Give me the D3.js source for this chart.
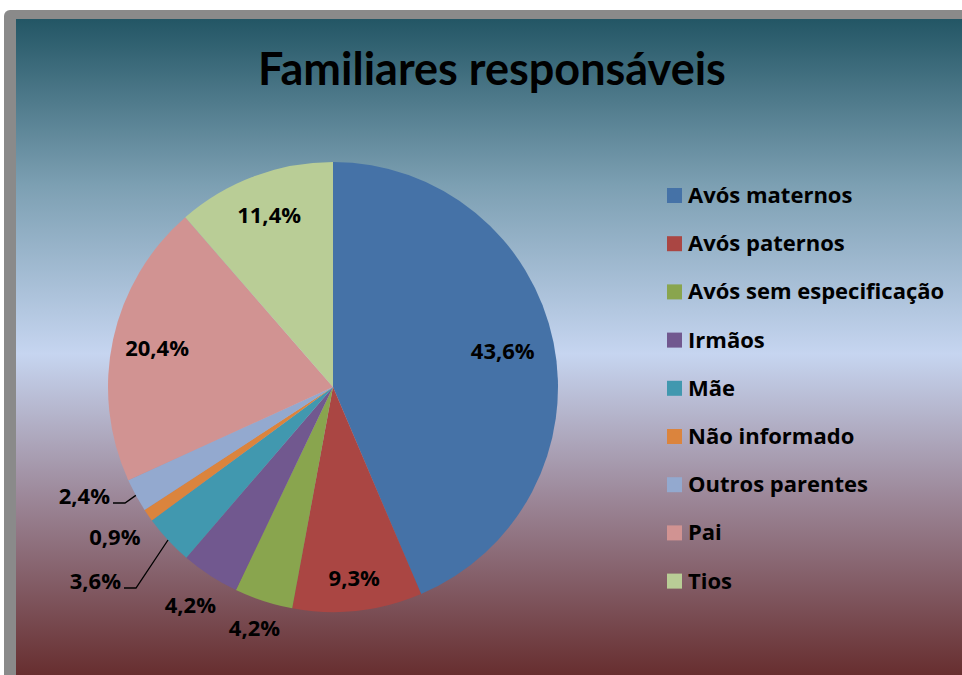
<!DOCTYPE html>
<html lang="pt">
<head>
<meta charset="UTF-8">
<title>Familiares responsáveis</title>
<script src="https://d3js.org/d3.v7.min.js"></script>
<style>
  body { margin: 0; background: #fff; }
  svg { display: block; font-family: "Open Sans", Lato, sans-serif; }
  .title { font-family: Lato, "Open Sans", sans-serif; }
</style>
</head>
<body>
<svg width="962" height="675"></svg>
<script>
const categories = ["Avós maternos", "Avós paternos", "Avós sem especificação", "Irmãos",
                    "Mãe", "Não informado", "Outros parentes", "Pai", "Tios"];
const values = [43.6, 9.3, 4.2, 4.2, 3.6, 0.9, 2.4, 20.4, 11.4];
const labels = ["43,6%", "9,3%", "4,2%", "4,2%", "3,6%", "0,9%", "2,4%", "20,4%", "11,4%"];
const colors = ["#4572A7", "#AA4643", "#89A54E", "#71588F", "#4198AF",
                "#DB843D", "#93A9CF", "#D19392", "#B9CD96"];

// label placement: radius factor, and whether a leader line is drawn
const labelPos = [
  {k: 0.77}, {k: 0.86}, {k: 1.13}, {k: 1.16},
  {k: 1.0, leader: true, elbow: [136, 588]}, {k: 1.18},
  {k: 1.0, leader: true, elbow: [125, 503]}, {k: 0.80}, {k: 0.81}
];

const svg = d3.select("svg");

// frame + gradient background
const grad = svg.append("defs").append("linearGradient")
  .attr("id", "bg").attr("x1", 0).attr("y1", 0).attr("x2", 0).attr("y2", 1);
grad.append("stop").attr("offset", "0%").attr("stop-color", "#235665");
grad.append("stop").attr("offset", "25%").attr("stop-color", "#7da0b3");
grad.append("stop").attr("offset", "50%").attr("stop-color", "#c6d5f0");
grad.append("stop").attr("offset", "72%").attr("stop-color", "#9b8596");
grad.append("stop").attr("offset", "100%").attr("stop-color", "#632727");

svg.append("rect").attr("x", 4).attr("y", 10).attr("width", 970).attr("height", 680)
  .attr("rx", 6).attr("fill", "#8a8a8a");
svg.append("rect").attr("x", 16).attr("y", 19).attr("width", 960).attr("height", 670)
  .attr("fill", "url(#bg)");

svg.append("text").attr("class", "title").attr("x", 492).attr("y", 85).attr("text-anchor", "middle")
  .attr("font-size", 45).attr("font-weight", "bold").attr("fill", "#000")
  .text("Familiares responsáveis");

const cx = 333, cy = 387, r = 225;
const g = svg.append("g").attr("transform", `translate(${cx},${cy})`);

const pie = d3.pie().sort(null).value(d => d);
const arcs = pie(values);
const arc = d3.arc().innerRadius(0).outerRadius(r);

g.selectAll("path.slice").data(arcs).enter().append("path")
  .attr("class", "slice")
  .attr("d", arc)
  .attr("fill", (d, i) => colors[i]);

const mid = d => (d.startAngle + d.endAngle) / 2;

arcs.forEach((d, i) => {
  const p = labelPos[i];
  const a = mid(d);
  if (p.leader) {
    const ex = r * Math.sin(a), ey = -r * Math.cos(a);
    const bx = p.elbow[0] - cx, by = p.elbow[1] - cy;
    g.append("polyline")
      .attr("points", `${ex},${ey} ${bx},${by} ${bx - 12},${by}`)
      .attr("fill", "none").attr("stroke", "#000").attr("stroke-width", 1.3);
    g.append("text").attr("x", bx - 15).attr("y", by + 1)
      .attr("text-anchor", "end").attr("font-size", 22).attr("font-weight", "bold")
      .text(labels[i]);
  } else {
    const lr = r * p.k;
    g.append("text").attr("x", lr * Math.sin(a)).attr("y", -lr * Math.cos(a) + 7)
      .attr("text-anchor", "middle").attr("font-size", 22).attr("font-weight", "bold")
      .text(labels[i]);
  }
});

// legend
const legend = svg.append("g").attr("transform", "translate(667,195)");
const rows = legend.selectAll("g").data(categories).enter().append("g")
  .attr("transform", (d, i) => `translate(0,${i * 48.2})`);
rows.append("rect").attr("x", 0).attr("y", -7).attr("width", 15).attr("height", 15)
  .attr("fill", (d, i) => colors[i]);
rows.append("text").attr("x", 21).attr("y", 8).attr("font-size", 22)
  .attr("font-weight", "bold").text(d => d);
</script>
</body>
</html>
